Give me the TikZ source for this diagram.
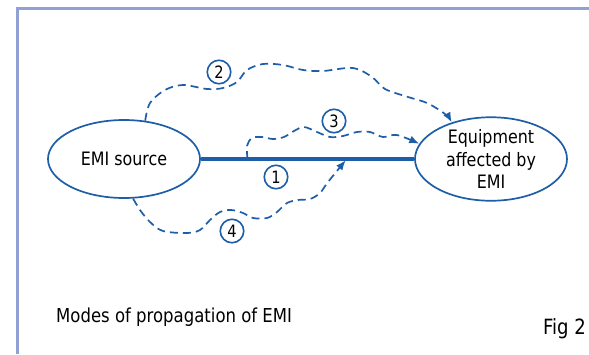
\documentclass[tikz,border=0pt]{standalone}
\usepackage{fontspec}
\setmainfont{DejaVu Sans}[FakeStretch=0.86]
\usetikzlibrary{shapes.geometric,arrows.meta}
\definecolor{emiblue}{RGB}{30,94,168}
\definecolor{framebl}{RGB}{146,161,213}
\tikzset{
  blob/.style={ellipse,draw=emiblue,line width=1.7pt,minimum width=152pt,
    minimum height=78pt,inner sep=0pt,align=center,
    font=\fontsize{18.5}{22.5}\selectfont},
  modenum/.style={circle,draw=emiblue,line width=1.6pt,minimum size=23.5pt,
    inner sep=0pt,font=\fontsize{17}{17}\selectfont},
  wave/.style={draw=emiblue,line width=1.7pt,dash pattern=on 8pt off 5pt,
    -{Latex[length=10pt,width=8pt]}},
}
\begin{document}
\begin{tikzpicture}[x=1pt,y=-1pt]
\useasboundingbox (0,0) rectangle (589,354);
% partial frame
\draw[framebl,line width=3pt] (17.3,354) -- (17.3,8.7) -- (589,8.7);

% source and victim
\node[blob] (src) at (124,159) {EMI source};
\node[blob] (dst) at (491,159) {Equipment\\affected by\\EMI};

% conducted path (1)
\draw[emiblue,line width=3.2pt] (src.east) -- (dst.west)
  coordinate[pos=0.219] (tap) coordinate[pos=0.684] (hit);

% mode labels
\node[modenum] (m1) at (276,177) {1};
\node[modenum] (m2) at (219,72) {2};
\node[modenum] (m3) at (334,121) {3};
\node[modenum] (m4) at (232,231) {4};

% radiated path (2)
\draw[wave] plot[smooth,tension=0.55] coordinates {
  (src.61) (150,103) (165,90) (183,85) (207,89) (223,88) (237,82) (247,70)
  (263,64) (283,65) (303,70) (323,71) (353,68) (372,77) (385,89)
  (408,97) (427,103) (445,114) (dst.137)};

% path (3) from the line
\draw[wave] plot[smooth,tension=0.55] coordinates {
  (tap) (247,146) (252,138) (262,137) (273,139) (284,137) (294,131)
  (304,127) (317,132) (330,137) (343,136) (357,132) (370,132) (383,137)
  (397,135) (dst.168)};

% path (4) onto the line
\draw[wave,shorten >=1.6pt] plot[smooth,tension=0.55] coordinates {
  (src.283) (140,210) (150,222) (163,231) (187,233) (200,230) (210,220)
  (220,212) (231,210) (243,213) (253,218) (267,218) (277,212) (287,203)
  (298,200) (310,199) (320,193) (328,182) (hit)};

% captions
\node[anchor=base west,inner sep=0pt,font=\fontsize{19.2}{23}\selectfont]
  (cap) at (56,322) {Modes of propagation of EMI};
\node[anchor=base east,inner sep=0pt,font=\fontsize{21}{25}\selectfont]
  (fig) at (586,334) {Fig 2};
\end{tikzpicture}
\end{document}
